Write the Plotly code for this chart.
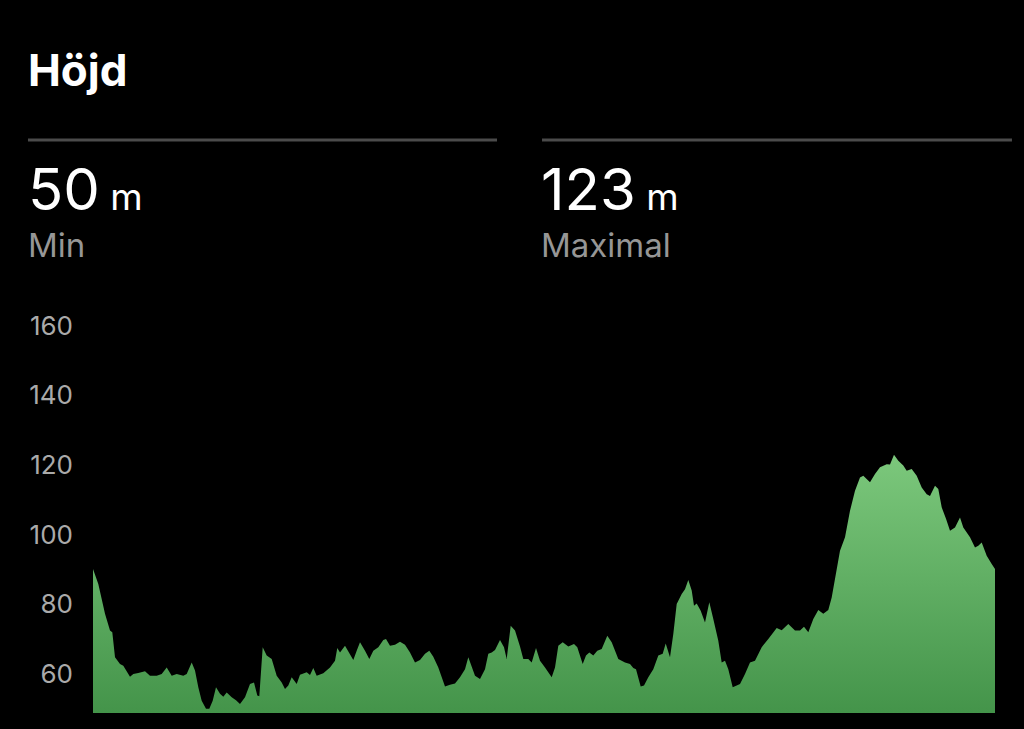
import plotly.graph_objects as go

# Distance along route (km) and elevation (m)
distance_km = [
    0.000, 0.053, 0.120, 0.170, 0.193, 0.220, 0.270, 0.303, 0.370, 0.403,
    0.453, 0.520, 0.570, 0.637, 0.687, 0.737, 0.787, 0.837, 0.903, 0.937,
    0.987, 1.020, 1.053, 1.087, 1.130, 1.163, 1.197, 1.230, 1.270, 1.303,
    1.337, 1.387, 1.430, 1.470, 1.520, 1.570, 1.610, 1.643, 1.663, 1.697,
    1.737, 1.787, 1.837, 1.887, 1.920, 1.953, 1.987, 2.037, 2.070, 2.137,
    2.170, 2.203, 2.237, 2.303, 2.370, 2.420, 2.443, 2.470, 2.520, 2.570,
    2.603, 2.637, 2.670, 2.720, 2.763, 2.803, 2.853, 2.903, 2.930, 2.970,
    3.020, 3.070, 3.120, 3.170, 3.220, 3.270, 3.320, 3.363, 3.403, 3.453,
    3.520, 3.570, 3.620, 3.670, 3.720, 3.753, 3.787, 3.820, 3.870, 3.920,
    3.953, 3.987, 4.020, 4.070, 4.110, 4.137, 4.177, 4.220, 4.270, 4.303,
    4.353, 4.387, 4.430, 4.470, 4.520, 4.587, 4.620, 4.653, 4.697, 4.753,
    4.810, 4.843, 4.897, 4.930, 4.963, 5.003, 5.043, 5.087, 5.143, 5.187,
    5.253, 5.320, 5.370, 5.403, 5.430, 5.477, 5.510, 5.553, 5.603, 5.653,
    5.697, 5.727, 5.770, 5.803, 5.837, 5.887, 5.920, 5.953, 5.987, 6.010,
    6.037, 6.077, 6.120, 6.163, 6.203, 6.253, 6.287, 6.320, 6.353, 6.397,
    6.437, 6.470, 6.520, 6.570, 6.620, 6.687, 6.753, 6.837, 6.887, 6.953,
    7.020, 7.070, 7.110, 7.153, 7.203, 7.253, 7.303, 7.353, 7.387, 7.420,
    7.470, 7.520, 7.570, 7.620, 7.670, 7.703, 7.770, 7.820, 7.870, 7.937,
    7.970, 8.010, 8.053, 8.103, 8.137, 8.187, 8.237, 8.287, 8.337, 8.370,
    8.420, 8.453, 8.487, 8.530, 8.570, 8.620, 8.670, 8.703, 8.770, 8.820,
    8.853, 8.887, 8.937, 8.987, 9.020,
]
elevation_m = [
    90.1, 85.8, 77.2, 72.4, 71.9, 64.7, 62.8, 62.3, 59.1, 59.9,
    60.2, 60.7, 59.4, 59.4, 59.9, 61.8, 59.4, 59.9, 59.4, 59.9,
    63.2, 60.9, 56.1, 52.2, 49.9, 49.9, 52.2, 56.1, 54.2, 53.4,
    54.6, 53.2, 52.4, 51.3, 53.2, 57.0, 57.5, 53.7, 53.5, 67.6,
    65.2, 64.2, 59.4, 57.5, 55.6, 56.6, 59.0, 57.0, 59.7, 60.4,
    59.6, 61.6, 59.4, 60.1, 61.8, 63.7, 67.4, 66.1, 68.0, 65.7,
    63.9, 66.6, 69.0, 66.6, 64.2, 66.6, 67.6, 69.7, 70.0, 68.0,
    68.3, 69.2, 68.3, 66.1, 63.2, 63.9, 65.7, 66.6, 64.9, 61.8,
    56.3, 56.8, 57.2, 59.0, 61.3, 64.7, 61.8, 59.4, 58.5, 61.3,
    65.7, 66.1, 66.8, 69.7, 67.6, 64.2, 73.8, 72.4, 67.8, 64.2,
    64.2, 63.2, 67.4, 63.7, 61.8, 59.0, 61.8, 68.0, 69.0, 67.8,
    68.5, 67.6, 62.8, 65.2, 66.1, 65.2, 66.6, 67.1, 70.9, 69.0,
    64.2, 63.2, 62.8, 61.6, 61.3, 56.3, 56.6, 59.0, 61.3, 65.2,
    65.7, 68.7, 64.7, 71.4, 80.0, 82.9, 84.3, 86.9, 83.9, 79.5,
    80.2, 78.1, 74.7, 80.5, 75.7, 69.5, 63.2, 63.7, 61.3, 56.1,
    56.6, 57.0, 59.9, 63.2, 63.7, 67.6, 70.0, 73.1, 72.5, 74.3,
    72.4, 72.4, 73.5, 71.9, 75.7, 78.3, 77.2, 78.3, 81.9, 87.7,
    95.3, 99.2, 106.8, 112.6, 116.4, 116.9, 115.0, 117.4, 119.3, 120.2,
    120.1, 122.9, 121.2, 119.8, 118.3, 118.8, 116.9, 113.5, 111.6, 111.1,
    114.0, 113.1, 107.8, 104.5, 101.1, 102.0, 104.9, 102.0, 99.2, 96.3,
    96.8, 97.7, 93.9, 91.5, 90.1,
]

y_ticks = [60, 80, 100, 120, 140, 160]
title_text = "Höjd"
stat_values = ["50", "123"]
stat_unit = "m"
stat_labels = ["Min", "Maximal"]

FONT = "Inter, 'Noto Sans', sans-serif"

fig = go.Figure()
fig.add_trace(go.Scatter(
    x=distance_km, y=elevation_m,
    mode="lines",
    line=dict(width=0, color="rgb(100,175,100)"),
    fill="tozeroy",
    fillgradient=dict(
        type="vertical",
        colorscale=[[0, "rgb(68,148,74)"], [1, "rgb(124,200,124)"]],
        start=48.7, stop=123,
    ),
    hoverinfo="skip",
    showlegend=False,
))

annotations = [
    dict(x=-0.0745, y=1.557, text=f"<b>{title_text}</b>",
         font=dict(size=44, color="white", family=FONT)),
    dict(x=-0.0745, y=1.268,
         text=f"{stat_values[0]}<span style='font-size:37px'> {stat_unit}</span>",
         font=dict(size=58, color="white", family=FONT)),
    dict(x=0.4945, y=1.268,
         text=f"{stat_values[1]}<span style='font-size:37px'> {stat_unit}</span>",
         font=dict(size=58, color="white", family=FONT)),
    dict(x=-0.0745, y=1.132, text=stat_labels[0],
         font=dict(size=33, color="rgb(150,150,150)", family=FONT)),
    dict(x=0.4945, y=1.132, text=stat_labels[1],
         font=dict(size=33, color="rgb(150,150,150)", family=FONT)),
]
for a in annotations:
    a.update(xref="paper", yref="paper", xanchor="left", yanchor="middle",
             showarrow=False)

shapes = [
    dict(type="line", xref="paper", yref="paper", x0=-0.0721, x1=0.4479,
         y0=1.3874, y1=1.3874, line=dict(color="rgb(75,75,75)", width=3)),
    dict(type="line", xref="paper", yref="paper", x0=0.4978, x1=1.0188,
         y0=1.3874, y1=1.3874, line=dict(color="rgb(75,75,75)", width=3)),
]

fig.update_layout(
    width=1024, height=729,
    paper_bgcolor="black", plot_bgcolor="black",
    margin=dict(l=93, r=29, t=300, b=16),
    annotations=annotations,
    shapes=shapes,
    xaxis=dict(range=[0, 9.02], visible=False, fixedrange=True),
    yaxis=dict(
        range=[48.7, 167.4],
        tickvals=y_ticks,
        showgrid=False, zeroline=False, showline=False,
        ticks="", ticklabelstandoff=19,
        tickfont=dict(size=26, color="rgb(170,170,170)", family=FONT),
        fixedrange=True,
    ),
)

fig.write_html(
    "out.html",
    config={"displayModeBar": False},
    post_script="document.body.style.margin='0';"
                "document.body.style.background='black';"
                "document.body.style.overflow='hidden';",
)
